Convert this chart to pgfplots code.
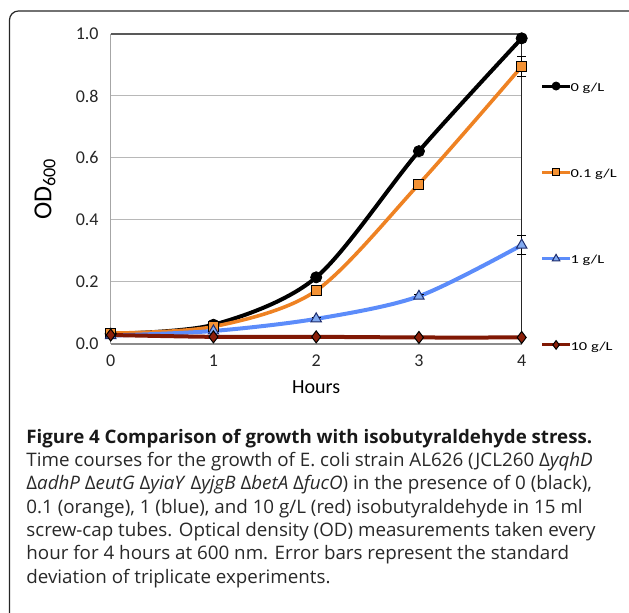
\documentclass[border=0pt]{standalone}
\usepackage{graphicx}
\usepackage{pgfplots}
\pgfplotsset{compat=1.18}
\usepackage{fontspec}
\setmainfont{Carlito}
\newfontfamily\capfont{Open Sans}
\definecolor{cBlack}{RGB}{0,0,0}
\definecolor{cOrange}{RGB}{238,130,35}
\definecolor{cOrangeFill}{RGB}{244,146,52}
\definecolor{cBlue}{RGB}{92,140,250}
\definecolor{cBlueFill}{RGB}{130,170,240}
\definecolor{cBlueEdge}{RGB}{30,45,110}
\definecolor{cRed}{RGB}{128,24,4}
\definecolor{cRedFill}{RGB}{140,32,10}
\definecolor{capText}{RGB}{40,40,40}
\newcommand{\D}{Δ}
\newcommand{\legtxt}[1]{\scalebox{1.35}[1]{#1}}
\newcommand{\capline}[2][1.01]{\scalebox{#1}[1]{#2}}
\begin{document}
\begin{tikzpicture}
\useasboundingbox (0pt,0pt) rectangle (314.5pt,306.5pt);
\clip (0pt,0pt) rectangle (314.5pt,306.5pt);
% frame of the figure
\draw[line width=0.6pt, black!85, rounded corners=4.5pt] (4.75pt,-20pt) rectangle (340pt,301pt);

\begin{axis}[
  at={(55.35pt,134.5pt)}, anchor=south west,
  scale only axis, width=205.5pt, height=155pt,
  xmin=0, xmax=4, ymin=0, ymax=1,
  clip=false,
  axis line style={draw=none},
  xtick={0,1,2,3,4},
  ytick={0,0.2,0.4,0.6,0.8,1.0},
  major tick length=0pt,
  ymajorgrids=true,
  major grid style={line width=0.5pt, black!28},
  tick label style={font=\fontsize{9}{10}\selectfont, text=black!85},
  /pgf/number format/assume math mode=true,
  yticklabel style={/pgf/number format/fixed, /pgf/number format/fixed zerofill, /pgf/number format/precision=1},
  yticklabel style={anchor=east, inner sep=0pt, xshift=-5.85pt},
  xticklabel style={anchor=north, inner sep=0pt, yshift=-5.2pt},
  xlabel={Hours},
  xlabel style={at={(axis description cs:0.5,-0.139)}, anchor=center, font=\fontsize{10}{11}\selectfont},
  ylabel={OD\textsubscript{600}},
  ylabel style={at={(axis description cs:-0.16,0.5)}, anchor=center, rotate=0, font=\fontsize{13}{14}\selectfont},
  legend style={at={(axis description cs:1.045,0.415)}, anchor=west, draw=none, fill=none,
     inner sep=0pt, row sep=33.9pt, column sep=-0.5pt, font=\fontsize{6.1}{7}\selectfont,
     nodes={inner sep=0pt, text height=5.5pt, text depth=2pt}},
  legend cell align=left,
  legend image code/.code={\path[draw=none, fill=none] (0pt,-2pt) rectangle (14pt,5.5pt);
     \draw[mark repeat=2,mark phase=2, line width=1.5pt, every mark/.append style={scale=0.72}] plot coordinates {(0pt,0.8pt) (7pt,0.8pt) (14pt,0.8pt)};},
  error bars/error bar style={black, line width=0.5pt},
  error bars/error mark options={rotate=90, mark size=2.3pt, black, line width=0.5pt},
]
% plot-area borders
\draw[line width=0.5pt, black!35] (rel axis cs:0,0) -- (rel axis cs:0,1);
\draw[line width=0.6pt, black!65] (rel axis cs:0,1) -- (rel axis cs:1,1);
\draw[line width=0.8pt, black!45] (rel axis cs:0,0) -- (rel axis cs:1,0);
\draw[line width=0.6pt, black!85] (rel axis cs:1,0) -- (rel axis cs:1,1);

\addplot[cBlack, line width=2pt, smooth, tension=0.5, mark=*, mark size=2.8pt,
  mark options={fill=black, draw=black, line width=0.4pt},
  error bars/.cd, y dir=both, y explicit]
  table[x=x, y=y, y error=e] {
x y e
0 0.033 0.002
1 0.062 0.004
2 0.215 0.006
3 0.622 0.008
4 0.986 0.010
};
\addlegendentry{\legtxt{0 g/L}}
\addplot[cOrange, line width=1.8pt, smooth, tension=0.5, mark=square*, mark size=2.5pt,
  mark options={fill=cOrangeFill, draw=black, line width=0.5pt},
  error bars/.cd, y dir=both, y explicit]
  table[x=x, y=y, y error=e] {
x y e
0 0.035 0.002
1 0.056 0.003
2 0.172 0.006
3 0.516 0.010
4 0.895 0.033
};
\addlegendentry{\legtxt{0.1 g/L}}
\addplot[cBlue, line width=2pt, smooth, tension=0.5, mark=triangle*, mark size=3pt,
  mark options={fill=cBlueFill, draw=cBlueEdge, line width=0.5pt},
  error bars/.cd, y dir=both, y explicit]
  table[x=x, y=y, y error=e] {
x y e
0 0.027 0.002
1 0.042 0.003
2 0.081 0.004
3 0.154 0.006
4 0.319 0.030
};
\addlegendentry{\legtxt{1 g/L}}
\addplot[cRed, line width=2pt, smooth, tension=0.5, mark=diamond*, mark size=3pt,
  mark options={fill=cRedFill, draw=black, line width=0.5pt},
  error bars/.cd, y dir=both, y explicit]
  table[x=x, y=y, y error=e] {
x y e
0 0.029 0.001
1 0.023 0.001
2 0.023 0.001
3 0.021 0.001
4 0.021 0.001
};
\addlegendentry{\legtxt{10 g/L}}
\end{axis}

% caption
\begin{scope}[every node/.style={anchor=base west, inner sep=0pt, text=capText, font=\capfont\fontsize{9.3}{11}\selectfont}]
\node at (13pt,84.85pt) {\capline[1.005]{\textbf{\color{black!90}Figure 4 Comparison of growth with isobutyraldehyde stress.}}};
\node at (13pt,73.17pt) {\capline{Time courses for the growth of E. coli strain AL626 (JCL260 \D\textit{yqhD}}};
\node at (13pt,61.5pt) {\capline{\D\textit{adhP} \D\textit{eutG} \D\textit{yiaY} \D\textit{yjgB} \D\textit{betA} \D\textit{fucO}) in the presence of 0 (black),}};
\node at (13pt,49.83pt) {\capline{0.1 (orange), 1 (blue), and 10 g/L (red) isobutyraldehyde in 15 ml}};
\node at (13pt,38.17pt) {\capline{screw-cap tubes. Optical density (OD) measurements taken every}};
\node at (13pt,26.5pt) {\capline{hour for 4 hours at 600 nm. Error bars represent the standard}};
\node at (13pt,14.83pt) {\capline{deviation of triplicate experiments.}};
\end{scope}
\end{tikzpicture}
\end{document}
